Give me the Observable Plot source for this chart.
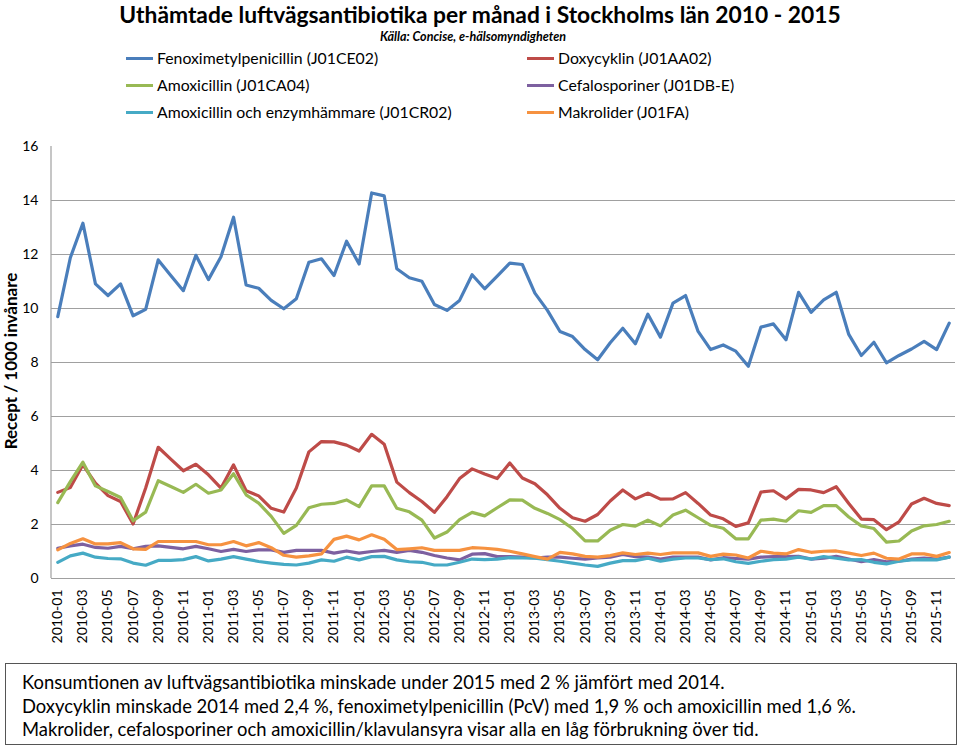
<!DOCTYPE html>
<html><head><meta charset="utf-8">
<script src="https://cdn.jsdelivr.net/npm/d3@7"></script>
<script src="https://cdn.jsdelivr.net/npm/@observablehq/plot@0.6"></script>
<style>
body{margin:0;background:#fff;}
#wrap{position:relative;width:960px;height:750px;overflow:hidden;font-family:Lato,"Open Sans",sans-serif;color:#000;}
#title{position:absolute;left:0;width:960px;top:0;text-align:center;font-weight:bold;font-size:22.8px;line-height:28px;}
#sub{position:absolute;left:0;width:946px;top:29px;text-align:center;font-weight:bold;font-style:italic;font-size:12.5px;line-height:16px;}
.leg{position:absolute;font-size:15.8px;line-height:18px;white-space:nowrap;}
.leg span.sw{position:absolute;height:3px;top:8px;}
#ylab{position:absolute;left:10px;top:361px;transform:translate(-50%,-50%) rotate(-90deg);font-weight:bold;font-size:17px;white-space:nowrap;}
#box{position:absolute;left:5px;top:663px;width:950px;height:80px;border:1.5px solid #555;box-sizing:content-box;}
#box div{position:absolute;left:16px;font-size:18.4px;white-space:nowrap;line-height:22px;}
#chart{position:absolute;left:0;top:130px;}
</style></head>
<body><div id="wrap">
<div id="title"></div><div id="sub"></div>
<div id="legend"></div>
<div id="chart"></div>
<div id="ylab"></div>
<div id="box"></div>
</div>
<script>
const titleText = "Uthämtade luftvägsantibiotika per månad i Stockholms län 2010 - 2015";
const subtitleText = "Källa: Concise, e-hälsomyndigheten";
const yLabel = "Recept / 1000 invånare";
const captionLines = [
  "Konsumtionen av luftvägsantibiotika minskade under 2015 med 2 % jämfört med 2014.",
  "Doxycyklin minskade 2014 med 2,4 %, fenoximetylpenicillin (PcV) med 1,9 % och amoxicillin med 1,6 %.",
  "Makrolider, cefalosporiner och amoxicillin/klavulansyra visar alla en låg förbrukning över tid."
];
const years = [2010, 2011, 2012, 2013, 2014, 2015];
const monthNums = ["01","02","03","04","05","06","07","08","09","10","11","12"];
const months = years.flatMap(y => monthNums.map(m => `${y}-${m}`));
const xTicks = months.filter((d, i) => i % 2 === 0);
const yTicks = [0, 2, 4, 6, 8, 10, 12, 14, 16];

const seriesNames = [
  "Fenoximetylpenicillin (J01CE02)",
  "Doxycyklin (J01AA02)",
  "Amoxicillin (J01CA04)",
  "Cefalosporiner (J01DB-E)",
  "Amoxicillin och enzymhämmare (J01CR02)",
  "Makrolider (J01FA)"
];
const seriesColors = ["#4A7EBB", "#BE4B48", "#98B954", "#7D60A0", "#46AAC5", "#F69240"];

const fenoximetylpenicillin = [
  9.70, 11.88, 13.16, 10.91, 10.48, 10.91, 9.73, 9.97, 11.80, 11.22,
  10.66, 11.97, 11.07, 11.92, 13.38, 10.87, 10.75, 10.30, 9.99, 10.36,
  11.71, 11.84, 11.22, 12.49, 11.65, 14.28, 14.17, 11.47, 11.14, 11.01,
  10.15, 9.93, 10.30, 11.25, 10.73, 11.20, 11.68, 11.63, 10.57, 9.93,
  9.15, 8.96, 8.48, 8.10, 8.73, 9.27, 8.69, 9.79, 8.94, 10.20,
  10.48, 9.15, 8.48, 8.65, 8.42, 7.86, 9.31, 9.43, 8.84, 10.60,
  9.86, 10.32, 10.60, 9.04, 8.26, 8.75, 7.99, 8.26, 8.50, 8.78,
  8.48, 9.46
];
const doxycyklin = [
  3.19, 3.37, 4.21, 3.53, 3.07, 2.85, 2.02, 3.35, 4.86, 4.42,
  3.99, 4.23, 3.84, 3.35, 4.21, 3.25, 3.06, 2.60, 2.46, 3.35,
  4.69, 5.07, 5.06, 4.94, 4.72, 5.34, 4.97, 3.57, 3.18, 2.85,
  2.45, 3.03, 3.70, 4.06, 3.87, 3.70, 4.28, 3.72, 3.51, 3.10,
  2.60, 2.25, 2.12, 2.37, 2.87, 3.28, 2.95, 3.16, 2.94, 2.95,
  3.18, 2.78, 2.35, 2.21, 1.93, 2.06, 3.20, 3.25, 2.95, 3.30,
  3.28, 3.18, 3.40, 2.78, 2.20, 2.18, 1.81, 2.10, 2.76, 2.97,
  2.78, 2.70
];
const amoxicillin = [
  2.81, 3.59, 4.31, 3.43, 3.22, 3.00, 2.14, 2.46, 3.62, 3.41,
  3.19, 3.49, 3.16, 3.28, 3.88, 3.10, 2.79, 2.30, 1.67, 1.97,
  2.62, 2.75, 2.78, 2.91, 2.66, 3.43, 3.43, 2.60, 2.47, 2.16,
  1.50, 1.72, 2.18, 2.45, 2.32, 2.62, 2.91, 2.90, 2.60, 2.41,
  2.18, 1.85, 1.39, 1.39, 1.79, 2.00, 1.94, 2.16, 1.95, 2.35,
  2.53, 2.25, 1.97, 1.86, 1.47, 1.47, 2.16, 2.20, 2.12, 2.51,
  2.45, 2.70, 2.70, 2.28, 1.95, 1.85, 1.35, 1.39, 1.76, 1.95,
  2.00, 2.12
];
const cefalosporiner = [
  1.12, 1.21, 1.27, 1.15, 1.12, 1.19, 1.10, 1.19, 1.21, 1.15,
  1.10, 1.19, 1.10, 1.00, 1.08, 1.00, 1.06, 1.06, 0.97, 1.04,
  1.04, 1.04, 0.94, 1.02, 0.94, 1.00, 1.04, 0.97, 1.04, 0.97,
  0.85, 0.76, 0.69, 0.90, 0.92, 0.81, 0.81, 0.79, 0.76, 0.79,
  0.79, 0.75, 0.72, 0.76, 0.79, 0.89, 0.81, 0.79, 0.72, 0.79,
  0.79, 0.79, 0.69, 0.77, 0.74, 0.72, 0.79, 0.81, 0.81, 0.82,
  0.72, 0.75, 0.82, 0.72, 0.62, 0.70, 0.62, 0.64, 0.72, 0.76,
  0.72, 0.79
];
const amoxEnzym = [
  0.60, 0.84, 0.94, 0.79, 0.74, 0.73, 0.57, 0.49, 0.67, 0.67,
  0.70, 0.81, 0.65, 0.72, 0.81, 0.72, 0.63, 0.57, 0.52, 0.50,
  0.57, 0.69, 0.64, 0.79, 0.69, 0.81, 0.82, 0.69, 0.62, 0.60,
  0.50, 0.50, 0.60, 0.72, 0.70, 0.72, 0.77, 0.76, 0.75, 0.70,
  0.64, 0.57, 0.50, 0.45, 0.57, 0.66, 0.66, 0.75, 0.64, 0.72,
  0.76, 0.76, 0.70, 0.73, 0.62, 0.56, 0.64, 0.70, 0.72, 0.79,
  0.72, 0.81, 0.75, 0.69, 0.70, 0.60, 0.54, 0.64, 0.69, 0.70,
  0.69, 0.79
];
const makrolider = [
  1.06, 1.30, 1.47, 1.28, 1.28, 1.33, 1.10, 1.08, 1.37, 1.37,
  1.37, 1.37, 1.25, 1.25, 1.37, 1.21, 1.33, 1.14, 0.86, 0.79,
  0.84, 0.91, 1.45, 1.57, 1.43, 1.62, 1.45, 1.07, 1.10, 1.14,
  1.04, 1.04, 1.04, 1.14, 1.12, 1.08, 1.01, 0.91, 0.81, 0.72,
  0.97, 0.91, 0.82, 0.79, 0.85, 0.95, 0.89, 0.94, 0.89, 0.95,
  0.95, 0.95, 0.82, 0.90, 0.87, 0.76, 1.01, 0.94, 0.91, 1.07,
  0.97, 1.01, 1.02, 0.94, 0.85, 0.94, 0.75, 0.72, 0.91, 0.91,
  0.82, 0.96
];
const seriesValues = [fenoximetylpenicillin, doxycyklin, amoxicillin, cefalosporiner, amoxEnzym, makrolider];

const rows = seriesNames.flatMap((name, s) =>
  seriesValues[s].map((v, i) => ({series: name, month: months[i], value: v})));

// texts
document.getElementById("title").textContent = titleText;
document.getElementById("sub").textContent = subtitleText;
document.getElementById("ylab").textContent = yLabel;
const box = document.getElementById("box");
captionLines.forEach((t, i) => {
  const d = document.createElement("div");
  d.textContent = t;
  d.style.top = (7 + i * 23.5) + "px";
  box.appendChild(d);
});
// legend (two columns, row-major)
const legend = document.getElementById("legend");
seriesNames.forEach((name, i) => {
  const col = i % 2, row = Math.floor(i / 2);
  const el = document.createElement("div");
  el.className = "leg";
  el.style.left = (col === 0 ? 157 : 558) + "px";
  el.style.top = (49 + row * 27) + "px";
  const sw = document.createElement("span");
  sw.className = "sw";
  sw.style.left = "-31px"; sw.style.width = "27px";
  sw.style.background = seriesColors[i];
  el.appendChild(sw);
  el.appendChild(document.createTextNode(name));
  legend.appendChild(el);
});

const chart = Plot.plot({
  width: 960,
  height: 530,
  marginTop: 16,
  marginBottom: 82,
  marginLeft: 51,
  marginRight: 5,
  style: {fontFamily: "Lato, 'Open Sans', sans-serif", fontSize: "14px", color: "#000", background: "transparent"},
  x: {type: "point", domain: months, padding: 0.5},
  y: {domain: [0, 16]},
  color: {domain: seriesNames, range: seriesColors},
  marks: [
    Plot.gridY(yTicks.filter(d => d > 0 && d < 16), {stroke: "#a0a0a0", strokeOpacity: 1, strokeWidth: 1}),
    Plot.ruleY([0], {stroke: "#a0a0a0", strokeWidth: 1.2}),
    Plot.axisY(yTicks, {tickSize: 0, tickPadding: 13, label: null, fontSize: 14}),
    Plot.axisX(xTicks, {tickSize: 0, tickPadding: 11, tickRotate: -90, label: null, fontSize: 14}),
    Plot.line(rows, {x: "month", y: "value", z: "series", stroke: "series", strokeWidth: 3.2, strokeLinejoin: "round", strokeLinecap: "round"})
  ]
});
// left axis line
const xr = chart.scale("x").range, yr = chart.scale("y").range;
d3.select(chart).append("line")
  .attr("x1", xr[0]).attr("x2", xr[0])
  .attr("y1", yr[0]).attr("y2", yr[1])
  .attr("stroke", "#a0a0a0").attr("stroke-width", 1.2);
document.getElementById("chart").appendChild(chart);
</script>
</body></html>
